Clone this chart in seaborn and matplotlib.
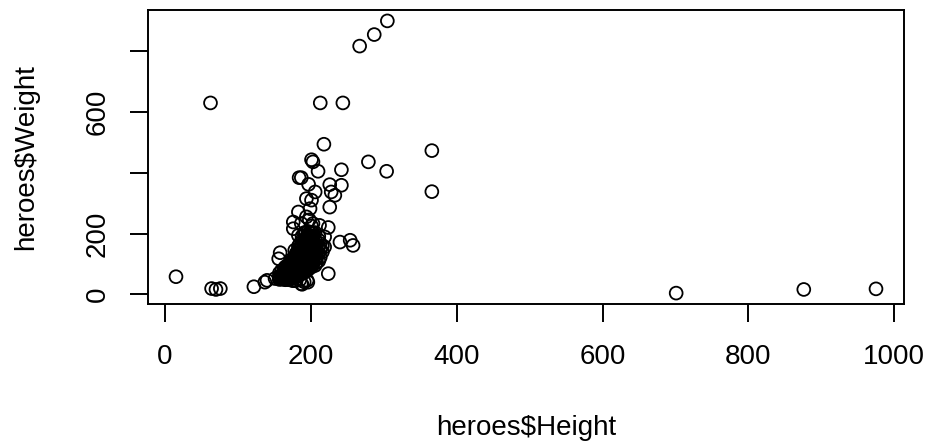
import numpy as np
import pandas as pd
import matplotlib
matplotlib.use("Agg")
import matplotlib.pyplot as plt
import seaborn as sns

# ---- data ----
# isolated points
outlier_height = [305, 287, 267, 62.5, 213, 244, 218, 366, 201, 203, 279, 242, 210, 304,
                  366, 184, 187, 197, 226, 242, 228, 233, 206, 194, 201, 226, 183, 199,
                  194, 198, 203, 176, 187, 212, 224, 219, 219, 240, 254, 258, 224,
                  158, 15.2, 64, 70, 76, 122, 137, 140, 151, 156, 178, 183, 176,
                  188, 195, 187, 196, 701, 876, 975]
outlier_weight = [900, 855, 817, 630, 630, 630, 494, 473, 443, 436, 436, 410, 405, 405,
                  338, 384, 384, 362, 361, 359, 337, 326, 337, 315, 310, 287, 271, 282,
                  255, 245, 233, 238, 233, 227, 220, 189, 156, 172, 178, 161, 68,
                  137, 58, 19, 16, 19, 25, 40, 46, 52, 117, 145, 194, 216,
                  33, 46, 35, 40, 4, 16, 18]

# dense cluster: heights and the weights seen at each height
core_heights = [157, 160, 163, 165, 168, 170, 173, 175, 178, 180, 183, 185,
                188, 191, 193, 196, 198, 201, 203, 206, 208, 211, 213, 216]
w157 = [49, 52, 55, 59, 70]
w160 = [50, 55, 59, 63, 79]
w163 = [50, 52, 55, 57, 59, 61, 70, 80]
w165 = [48, 52, 54, 56, 59, 61, 63, 68, 74, 90]
w168 = [50, 52, 54, 56, 57, 59, 61, 63, 65, 74, 81, 95]
w170 = [48, 50, 52, 54, 56, 59, 61, 63, 65, 68, 72, 77, 81, 88, 99]
w173 = [52, 54, 56, 59, 61, 63, 65, 68, 72, 74, 77, 81, 86, 90, 104]
w175 = [45, 54, 56, 58, 61, 63, 65, 68, 72, 74, 77, 79, 81, 86, 90, 95, 110, 117]
w178 = [45, 56, 59, 61, 65, 68, 72, 74, 77, 79, 81, 83, 86, 88, 90, 95, 99, 104, 117, 122]
w180 = [45, 58, 61, 63, 65, 68, 72, 74, 77, 79, 81, 83, 86, 88, 90, 95, 99, 104, 110, 117, 128, 135]
w183 = [61, 65, 68, 72, 74, 77, 79, 81, 83, 86, 88, 90, 95, 99, 101, 104, 108, 113, 117, 122, 135, 146, 158]
w185 = [48, 65, 72, 74, 77, 79, 81, 83, 86, 88, 90, 95, 97, 99, 104, 110, 113, 122, 128, 140, 155, 167]
w188 = [68, 77, 79, 81, 83, 86, 88, 90, 95, 99, 101, 104, 108, 113, 117, 122, 128, 135, 146, 158, 178, 191]
w191 = [41, 72, 79, 81, 86, 88, 90, 95, 99, 104, 110, 113, 117, 122, 128, 135, 146, 155, 167, 178, 203]
w193 = [77, 81, 86, 90, 95, 99, 104, 108, 113, 117, 122, 128, 135, 140, 149, 158, 167, 180, 203]
w196 = [81, 88, 95, 99, 104, 110, 117, 122, 128, 135, 146, 155, 167, 178, 191, 207]
w198 = [86, 90, 99, 108, 117, 128, 135, 140, 146, 158, 167, 178, 191, 203]
w201 = [90, 99, 110, 122, 135, 146, 158, 167, 180, 191, 203, 225]
w203 = [99, 104, 117, 128, 140, 155, 167, 178, 191, 203]
w206 = [95, 113, 128, 146, 158, 178, 203]
w208 = [104, 120, 135, 160]
w211 = [110, 135, 158, 178, 191]
w213 = [122, 146, 167]
w216 = [140, 160]
core_weights = [w157, w160, w163, w165, w168, w170, w173, w175, w178, w180, w183, w185,
                w188, w191, w193, w196, w198, w201, w203, w206, w208, w211, w213, w216]

x_ticks = [0, 200, 400, 600, 800, 1000]
y_ticks = [0, 200, 400, 600, 800]
y_tick_labels = ["0", "200", "", "600", ""]

# ---- build table ----
heights = list(outlier_height)
weights = list(outlier_weight)
for h, ws in zip(core_heights, core_weights):
    heights += [h] * len(ws)
    weights += ws
df = pd.DataFrame({"Height": heights, "Weight": weights})

# ---- plot ----
sns.set_theme(style="white")
plt.rcParams["font.family"] = ["Liberation Sans", "DejaVu Sans"]

W, H = 931, 444
fig = plt.figure(figsize=(W / 100, H / 100), dpi=100)
ax = fig.add_axes([148 / W, 1 - 304 / H, (904 - 148) / W, (304 - 10) / H])

sns.scatterplot(data=df, x="Height", y="Weight", ax=ax, marker="o", s=85,
                color="black", linewidth=1.3, edgecolor="black", legend=False)
for c in ax.collections:
    c.set_facecolor("none")
    c.set_edgecolor("black")

# R-style 4% range expansion
xr = max(heights) - min(heights)
yr = max(weights) - min(weights)
ax.set_xlim(min(heights) - 0.04 * xr, max(heights) + 0.04 * xr)
ax.set_ylim(min(weights) - 0.04 * yr, max(weights) + 0.04 * yr)

for s in ax.spines.values():
    s.set_visible(True)
    s.set_color("black")
    s.set_linewidth(1.4)

ax.set_xticks(x_ticks)
ax.set_xticklabels([str(v) for v in x_ticks])
ax.set_yticks(y_ticks)
ax.set_yticklabels(y_tick_labels, rotation=90, va="center")
ax.tick_params(axis="both", which="major", direction="out", length=13, width=1.4,
               color="black", labelcolor="black", labelsize=20, bottom=True, left=True)
ax.tick_params(axis="x", pad=16)
ax.tick_params(axis="y", pad=14)

ax.set_xlabel("heroes\\$Height", fontsize=20, color="black", va="center")
ax.set_ylabel("heroes\\$Weight", fontsize=20, color="black", va="center")
ax.xaxis.set_label_coords(0.5, -(428 - 304) / 294)
ax.yaxis.set_label_coords(-(148 - 26) / 756, 0.5)
ax.grid(False)

fig.savefig("out.png", dpi=100, facecolor="white")
